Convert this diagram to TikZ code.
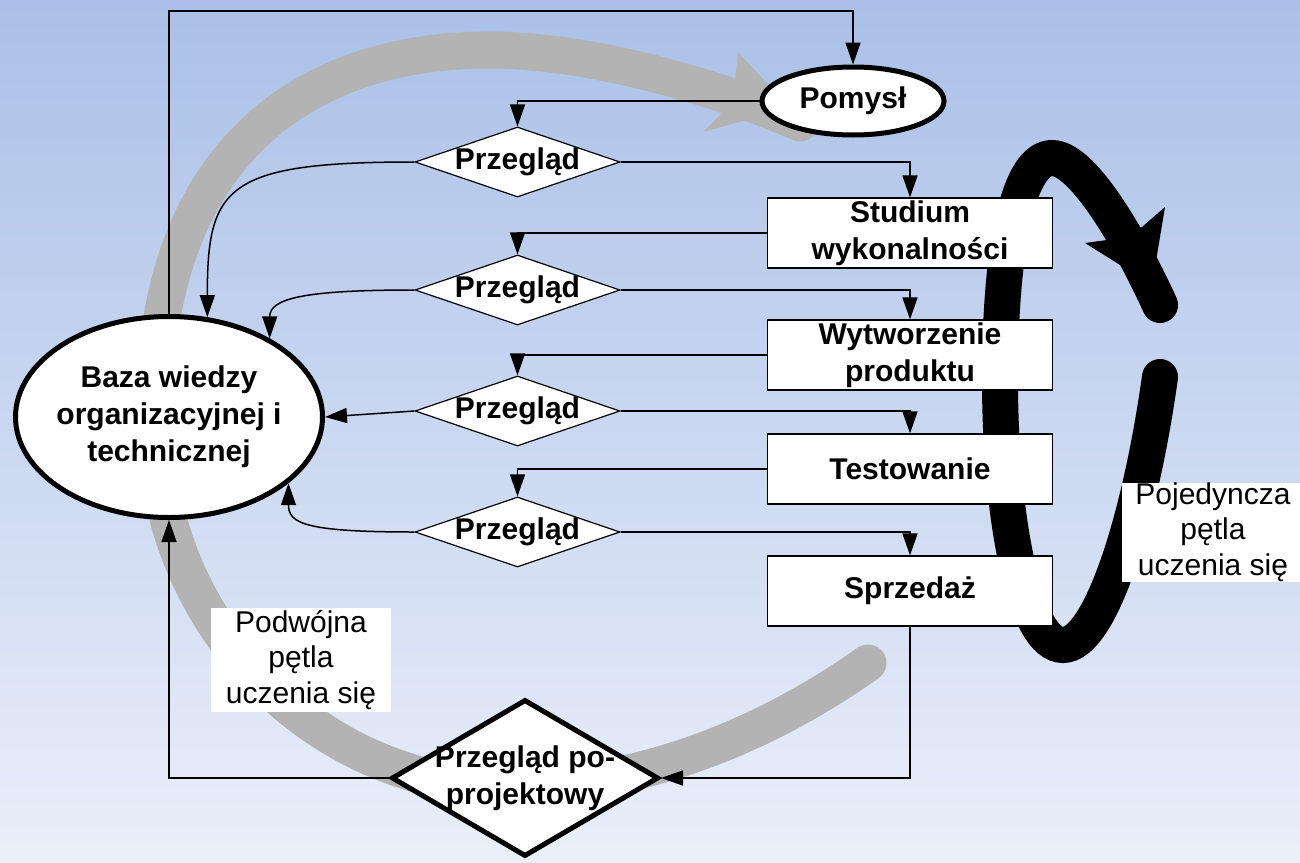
\documentclass[tikz,border=0pt]{standalone}
\usepackage{fontspec}
\setmainfont{Liberation Sans}
\usetikzlibrary{shapes.geometric,arrows.meta}
\definecolor{bgtop}{RGB}{170,192,232}
\definecolor{bgbot}{RGB}{234,239,249}
\definecolor{loopgray}{RGB}{179,179,179}
\begin{document}
\begin{tikzpicture}[x=1pt,y=-1pt,
  boldtxt/.style={font=\fontsize{30}{37}\selectfont\bfseries},
  plaintxt/.style={font=\fontsize{30}{35.5}\selectfont},
  stage/.style={rectangle, draw=black, line width=1.2pt, fill=white,
    minimum width=285pt, minimum height=70pt, inner sep=0pt, align=center, boldtxt},
  review/.style={diamond, draw=black, line width=1.2pt, fill=white,
    minimum width=205pt, minimum height=70pt, inner sep=0pt},
  finalreview/.style={diamond, draw=black, line width=5pt, fill=white,
    minimum width=267pt, minimum height=157pt, inner sep=0pt},
  idea/.style={ellipse, draw=black, line width=5pt, fill=white,
    minimum width=182pt, minimum height=68pt, inner sep=0pt, boldtxt},
  knowledge/.style={ellipse, draw=black, line width=5pt, fill=white,
    minimum width=307pt, minimum height=201pt, inner sep=0pt},
  note/.style={rectangle, fill=white, inner sep=0pt, align=center, plaintxt},
  conn/.style={line width=1.5pt, -{Triangle[length=22pt,width=15pt]}},
  bigloop/.style={line width=37pt, loopgray, line cap=round},
  smallloop/.style={line width=36pt, black, line cap=round}
]
\useasboundingbox (0,0) rectangle (1300,862);
% background gradient
\shade[top color=bgtop, bottom color=bgbot] (0,0) rectangle (1300,862);

% double learning loop (gray)
\draw[bigloop] (868,663)
  .. controls (738,755) and (610,787) .. (510,787)
  .. controls (315,787) and (155,622) .. (155,420)
  .. controls (150,180) and (280,50) .. (490,50)
  .. controls (590,50) and (720,88) .. (800,123);
\fill[loopgray] (738,52) -- (790,108) -- (703,132) -- (720,115) -- (735,80) -- cycle;

% single learning loop (black)
\draw[smallloop] (1160,377)
  .. controls (1140,520) and (1100,645) .. (1063,645)
  .. controls (1025,645) and (1000,520) .. (1000,380)
  .. controls (1000,240) and (1020,158) .. (1052,158)
  .. controls (1085,158) and (1135,250) .. (1160,305);
\fill[black] (1085,243) -- (1107,240) -- (1142,227) -- (1165,207) -- (1152,285) -- cycle;

% nodes
\node[idea] (pomysl) at (853,101) {Pomysł};
\node[knowledge, label={[boldtxt,align=center]center:{Baza wiedzy\\organizacyjnej i\\technicznej}}] (baza) at (169,417) {};

\node[review, label={[boldtxt]center:Przegląd}] (r1) at (517.5,162) {};
\node[review, label={[boldtxt]center:Przegląd}] (r2) at (517.5,290) {};
\node[review, label={[boldtxt]center:Przegląd}] (r3) at (517.5,411) {};
\node[review, label={[boldtxt]center:Przegląd}] (r4) at (517.5,532) {};

\node[stage] (s1) at (910,233) {Studium\\wykonalności};
\node[stage] (s2) at (910,355) {Wytworzenie\\produktu};
\node[stage] (s3) at (910,469) {Testowanie};
\node[stage] (s4) at (910,591) {Sprzedaż};

\node[finalreview, label={[boldtxt,align=center]center:{Przegląd po-\\projektowy}}] (pp) at (525,778) {};

% connectors
\coordinate (topc) at (500,11);
\draw[conn] (baza.north) |- (topc) -| (pomysl.north);
\draw[conn] (pomysl.west) -| (r1.north);
\draw[conn] (r1.east) -| (s1.north);
\draw[conn] (s1.west) -| (r2.north);
\draw[conn] (r2.east) -| (s2.north);
\draw[conn] (s2.west) -| (r3.north);
\draw[conn] (r3.east) -| (s3.north);
\draw[conn] (s3.west) -| (r4.north);
\draw[conn] (r4.east) -| (s4.north);
\draw[conn] (s4.south) |- (pp.east);
\draw[conn] (pp.west) -| (baza.south);
\draw[conn] (r1.west) .. controls +(-190,0) and +(0,-130) .. (baza.69);
\draw[conn] (r2.west) .. controls +(-110,0) and +(0,-40) .. (baza.38);
\draw[conn] (r3.west) -- (baza.east);
\draw[conn] (r4.west) .. controls +(-110,0) and +(0,40) .. (baza.-29);

% loop captions
\node[note, minimum width=182pt, minimum height=94pt] (single) at (1213,532) {Pojedyncza\\pętla\\uczenia się};
\node[note, minimum width=180pt, minimum height=104pt] (double) at (301,660) {Podwójna\\pętla\\uczenia się};
\end{tikzpicture}
\end{document}
